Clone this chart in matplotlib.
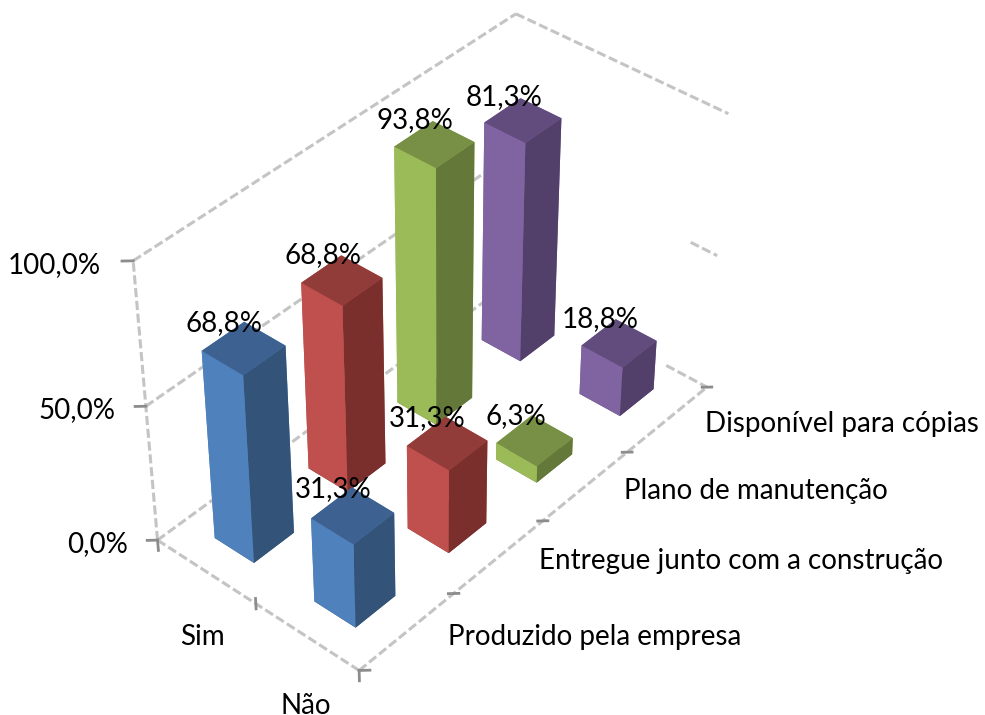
import matplotlib
matplotlib.use("Agg")
import matplotlib.pyplot as plt

plt.rcParams['font.family'] = ['Lato', 'DejaVu Sans']

# data
answers = ["Sim", "Não"]
items = ["Produzido pela empresa", "Entregue junto com a construção",
         "Plano de manutenção", "Disponível para cópias"]
sim = [68.8, 68.8, 93.8, 81.3]
nao = [31.3, 31.3, 6.3, 18.8]
z_ticks = [0, 50, 100]
z_labels = ["0,0%", "50,0%", "100,0%"]

# light side, top, dark side colours for each item
front_cols = ["#4F81BD", "#C0504D", "#9BBB59", "#8064A2"]
top_cols = ["#3D6292", "#923C3A", "#779046", "#624C7E"]
side_cols = ["#335478", "#7A2F2D", "#64783A", "#523F6A"]

grid = "#C4C4C4"
tick = "#8C8C8C"
bar_dx = 0.40
bar_dy = 0.42
fs = 20

fig = plt.figure(figsize=(9.85, 7.15), dpi=100)
S = 693
ax = fig.add_axes([(431.4 - S / 2) / 985, (377.1 - S / 2) / 715, S / 985, S / 715],
                  projection="3d", computed_zorder=False)
ax.view_init(elev=39.39, azim=-48.94)
ax.set_proj_type("persp", focal_length=0.758)
ax.set_box_aspect((1, 2.015, 1.30), zoom=1)

x0, x1 = -0.5, len(answers) - 0.5
y0, y1 = -0.5, len(items) - 0.5
top = z_ticks[-1]

# walls and floor
dash = dict(color=grid, lw=2.2, ls=(0, (3, 1.2)), zorder=1)
ax.plot([x0, x0], [y0, y0], [0, top], **dash)
for z in z_ticks:
    ax.plot([x0, x0], [y0, y1], [z, z], **dash)
ax.plot([x0, x1], [y1, y1], [top, top], **dash)
ax.plot([x1 - 0.25, x1], [y1, y1], [z_ticks[1]] * 2, **dash)
ax.plot([x1 - 0.4, x1], [y1, y1], [0, 0], **dash)
ax.plot([x0, x1], [y0, y0], [0, 0], **dash)
ax.plot([x1, x1], [y0, y1], [0, 0], **dash)

# tick marks and axis labels
for z, lab in zip(z_ticks, z_labels):
    ax.plot([x0, x0 - 0.055], [y0, y0 - 0.051], [z, z], color=tick, lw=2, zorder=2)
    ax.text(x0 - 0.133, y0 - 0.17, z, lab, ha="right", va="center", fontsize=fs, color="black", zorder=50)
for i in range(len(answers) + 1):
    # the middle tick straddles the edge
    up = 2 if i == 1 else 0
    ax.plot([x0 + i] * 2, [y0, y0], [up, up - 4], color=tick, lw=2, zorder=2)
for i, lab in enumerate(answers):
    ax.text(i + 0.466, y0 - 0.505, 1, lab, ha="center", va="center", fontsize=fs, color="black", zorder=50)
for j in range(len(items) + 1):
    back = 0.5 if j > 0 else 0
    ax.plot([x1 - back * 0.055, x1 + (1 - back) * 0.055],
            [y0 + j - back * 0.051, y0 + j + (1 - back) * 0.051], [0, 0], color=tick, lw=2, zorder=2)
for j, lab in enumerate(items):
    ax.text(x1 + 0.25, j + 0.15, 0, lab, ha="left", va="center", fontsize=fs, color="black", zorder=50)

# bars, back to front
cells = []
for j in range(len(items)):
    cells.append((0, j, sim[j]))
    cells.append((1, j, nao[j]))
cells.sort(key=lambda c: c[0] - c[1])
for n, (i, j, v) in enumerate(cells):
    # order of faces: bottom, top, -y, +y, -x, +x
    cols = [side_cols[j], top_cols[j], front_cols[j], front_cols[j], front_cols[j], side_cols[j]]
    ax.bar3d(i - bar_dx / 2, j - bar_dy / 2, 0, bar_dx, bar_dy, v, color=cols,
             shade=False, edgecolor="none", zorder=10 + n)
    ax.text(i - 0.197, j + 0.01, v, ("%.1f" % v).replace(".", ",") + "%",
            ha="center", va="bottom", fontsize=fs, color="black", zorder=60)

ax.set_xlim(x0, x1)
ax.set_ylim(y0, y1)
ax.set_zlim(0, top)
ax.set_axis_off()

fig.savefig("out.png", dpi=100)
